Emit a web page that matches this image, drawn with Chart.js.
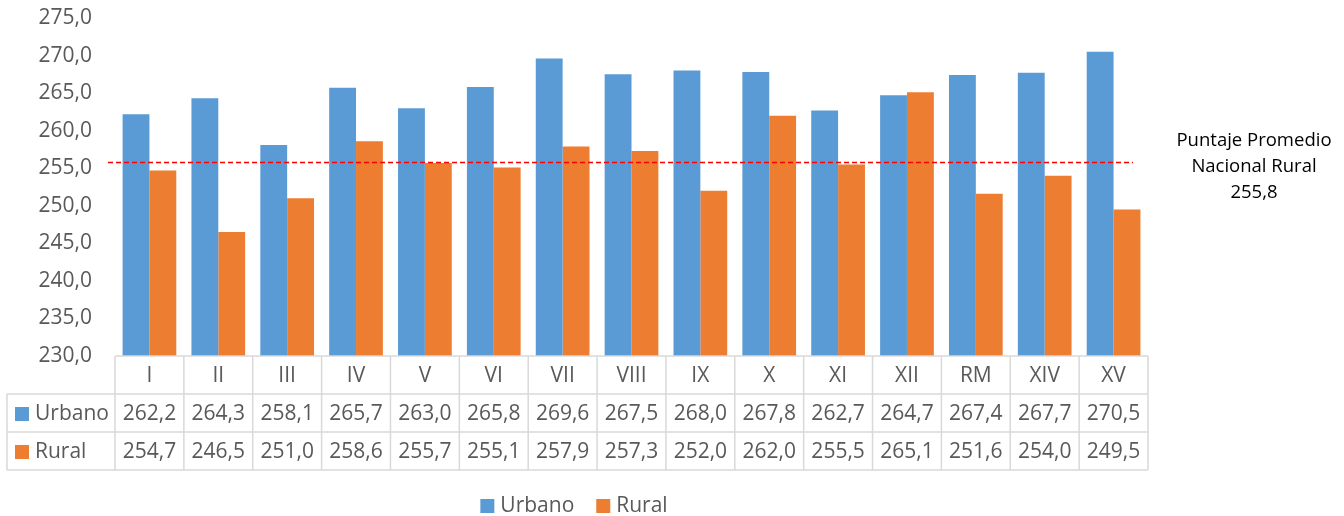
<!DOCTYPE html>
<html>
<head>
<meta charset="utf-8">
<script src="https://cdn.jsdelivr.net/npm/chart.js@4.4.1/dist/chart.umd.min.js"></script>
<style>
  html, body { margin: 0; padding: 0; background: #fff; }
  #wrap { width: 1344px; height: 516px; }
</style>
</head>
<body>
<div id="wrap"><canvas id="chart" width="1344" height="516"></canvas></div>
<script>
// Regiones
const regions = ['I', 'II', 'III', 'IV', 'V', 'VI', 'VII', 'VIII', 'IX', 'X', 'XI', 'XII', 'RM', 'XIV', 'XV'];

// Puntajes por zona
const urbano = [262.2, 264.3, 258.1, 265.7, 263.0, 265.8, 269.6, 267.5, 268.0, 267.8, 262.7, 264.7, 267.4, 267.7, 270.5];
const rural  = [254.7, 246.5, 251.0, 258.6, 255.7, 255.1, 257.9, 257.3, 252.0, 262.0, 255.5, 265.1, 251.6, 254.0, 249.5];

// Eje Y
const yMin = 230;
const yMax = 275;
const yStep = 5;

// Promedio nacional rural (línea roja)
const promedioRural = 255.8;
const promedioLabel = ['Puntaje Promedio', 'Nacional Rural', '255,8'];

const FONT = '"Open Sans", sans-serif';
const TEXT_GRAY = '#595959';
const GRID_GRAY = '#d9d9d9';

const fmt = v => v.toFixed(1).replace('.', ',');

// Tabla de datos bajo el gráfico + leyenda + línea de promedio
const tablePlugin = {
  id: 'dataTable',
  afterDatasetsDraw(chart) {
    const { ctx, chartArea: ca, scales: { y } } = chart;
    const py = Math.round(y.getPixelForValue(promedioRural)) + 0.5;
    ctx.save();
    ctx.strokeStyle = '#ff0000';
    ctx.lineWidth = 1.5;
    ctx.setLineDash([5, 3]);
    ctx.beginPath();
    ctx.moveTo(ca.left - 7, py);
    ctx.lineTo(ca.right - 15, py);
    ctx.stroke();
    ctx.restore();
  },
  afterDraw(chart) {
    const { ctx, chartArea: ca, scales: { x } } = chart;
    const colW = x.width / regions.length;
    const rowH = 38;
    const top = ca.bottom;
    const labelLeft = 7;
    const rows = chart.data.datasets;

    ctx.save();
    ctx.strokeStyle = GRID_GRAY;
    ctx.lineWidth = 1.5;
    ctx.beginPath();
    // horizontal lines
    ctx.moveTo(ca.left, top); ctx.lineTo(ca.right, top);
    for (let r = 1; r <= rows.length + 1; r++) {
      const yy = top + r * rowH;
      ctx.moveTo(labelLeft, yy); ctx.lineTo(ca.right, yy);
    }
    // vertical lines
    for (let i = 0; i <= regions.length; i++) {
      const xx = ca.left + i * colW;
      ctx.moveTo(xx, top); ctx.lineTo(xx, top + (rows.length + 1) * rowH);
    }
    ctx.moveTo(labelLeft, top + rowH); ctx.lineTo(labelLeft, top + (rows.length + 1) * rowH);
    ctx.stroke();

    ctx.font = '21px ' + FONT;
    ctx.fillStyle = TEXT_GRAY;
    ctx.textBaseline = 'middle';
    ctx.textAlign = 'center';
    regions.forEach((r, i) => {
      ctx.fillText(r, x.getPixelForValue(i), top + rowH / 2 + 1);
    });
    rows.forEach((ds, r) => {
      const cy = top + (r + 1.5) * rowH + 1;
      ctx.textAlign = 'center';
      ctx.fillStyle = TEXT_GRAY;
      ds.data.forEach((v, i) => ctx.fillText(fmt(v), x.getPixelForValue(i), cy));
      ctx.fillStyle = ds.backgroundColor;
      ctx.fillRect(labelLeft + 8, cy - 7, 14, 14);
      ctx.fillStyle = TEXT_GRAY;
      ctx.textAlign = 'left';
      ctx.fillText(ds.label, labelLeft + 28, cy);
    });

    // leyenda
    const legY = 506;
    const box = 14, gap = 6, sep = 22;
    const widths = rows.map(ds => box + gap + ctx.measureText(ds.label).width);
    const total = widths.reduce((a, b) => a + b, 0) + sep * (rows.length - 1);
    let lx = ca.right / 2 - total / 2;
    rows.forEach((ds, r) => {
      ctx.fillStyle = ds.backgroundColor;
      ctx.fillRect(lx, legY - 7, box, box);
      ctx.fillStyle = TEXT_GRAY;
      ctx.textAlign = 'left';
      ctx.fillText(ds.label, lx + box + gap, legY);
      lx += widths[r] + sep;
    });

    // anotación del promedio
    ctx.font = '18.5px ' + FONT;
    ctx.fillStyle = '#000';
    ctx.textAlign = 'center';
    promedioLabel.forEach((t, i) => ctx.fillText(t, ca.right + 106, 141 + i * 26));
    ctx.restore();
  }
};

new Chart(document.getElementById('chart'), {
  type: 'bar',
  data: {
    labels: regions,
    datasets: [
      { label: 'Urbano', data: urbano, backgroundColor: '#5b9bd5' },
      { label: 'Rural', data: rural, backgroundColor: '#ed7d31' }
    ]
  },
  options: {
    responsive: false,
    animation: false,
    devicePixelRatio: 1,
    layout: { padding: { left: 0, right: 196, top: 18, bottom: 160 } },
    datasets: { bar: { categoryPercentage: 0.78, barPercentage: 1.0 } },
    scales: {
      x: { display: false },
      y: {
        min: yMin,
        max: yMax,
        grid: { display: false, drawTicks: false },
        border: { display: false },
        ticks: {
          stepSize: yStep,
          padding: 23,
          color: TEXT_GRAY,
          font: { family: FONT, size: 21 },
          callback: v => fmt(v)
        },
        afterFit(scale) {
          scale.width = 115;
          scale.paddingTop = 0;
          scale.paddingBottom = 0;
        }
      }
    },
    plugins: {
      legend: { display: false },
      tooltip: { enabled: false }
    }
  },
  plugins: [tablePlugin]
});
</script>
</body>
</html>
